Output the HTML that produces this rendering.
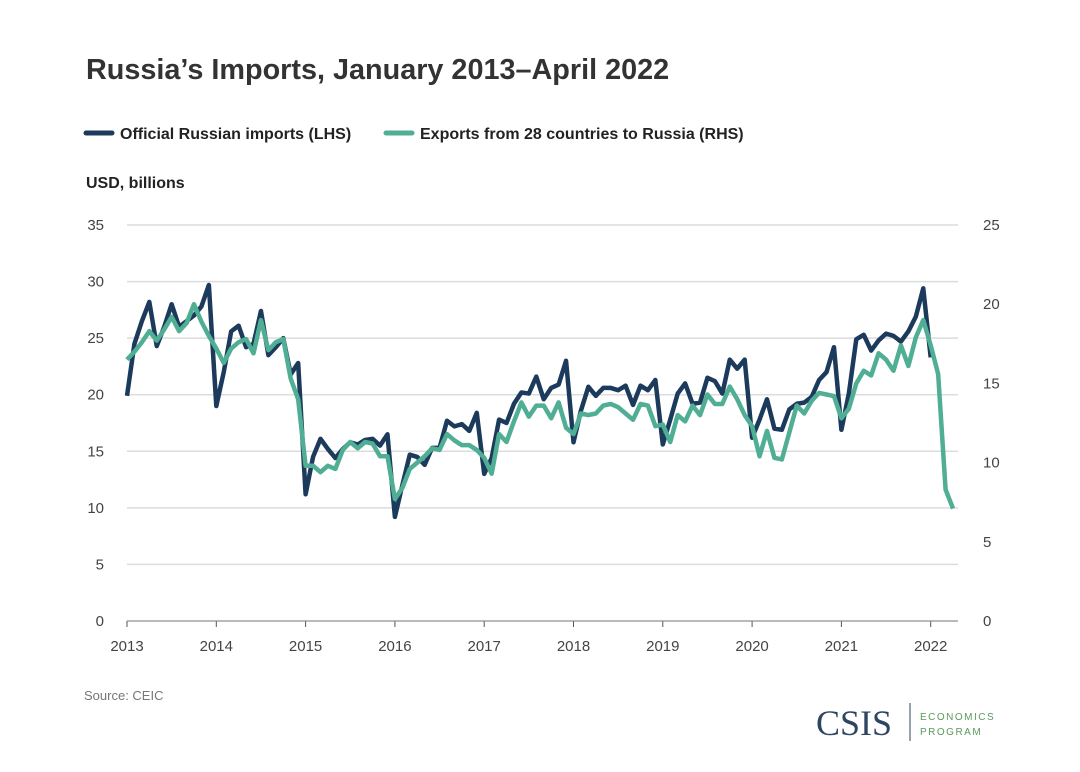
<!DOCTYPE html>
<html><head><meta charset="utf-8"><style>
body{margin:0;background:#fff;font-family:"Liberation Sans",sans-serif}
#wrap{position:relative;width:1080px;height:772px;overflow:hidden}
</style></head><body><div id="wrap">
<svg id="c" width="1080" height="772" xmlns="http://www.w3.org/2000/svg">
<text x="86" y="79" font-size="28.8" font-weight="bold" fill="#333">Russia’s Imports, January 2013–April 2022</text>
<g>
<line x1="86" y1="133" x2="112" y2="133" stroke="#1b3a5c" stroke-width="5" stroke-linecap="round"/>
<text x="120" y="139" font-size="16" font-weight="bold" fill="#222">Official Russian imports (LHS)</text>
<line x1="386" y1="133" x2="412" y2="133" stroke="#4fae94" stroke-width="5" stroke-linecap="round"/>
<text x="420" y="139" font-size="16" font-weight="bold" fill="#222">Exports from 28 countries to Russia (RHS)</text>
</g>
<text x="86" y="188" font-size="16" font-weight="bold" fill="#222">USD, billions</text>
<g id="grid"></g><g id="series"></g>
<text x="84" y="700" font-size="13" fill="#777">Source: CEIC</text>
<g>
<text x="816" y="735" font-family="Liberation Serif,serif" font-size="36" fill="#2d4560">CSIS</text>
<line x1="910" y1="703" x2="910" y2="741" stroke="#2d4560" stroke-width="1"/>
<text x="920" y="720" font-size="10" letter-spacing="1.5" fill="#5a9a5a">ECONOMICS</text>
<text x="920" y="735" font-size="10" letter-spacing="1.5" fill="#5a9a5a">PROGRAM</text>
</g>
</svg></div>
<script>
const leftTicks=[0,5,10,15,20,25,30,35];
const rightTicks=[0,5,10,15,20,25];
const years=[2013,2014,2015,2016,2017,2018,2019,2020,2021,2022];
const imports=[19.9,24.5,26.5,28.2,24.3,26,28,26,26.5,27,27.8,29.7,
19,22,25.6,26.1,24.2,24.5,27.4,23.5,24.2,25,21.8,22.8,
11.2,14.5,16.1,15.2,14.4,15.2,15.8,15.6,16,16.1,15.5,16.5,
9.2,12,14.7,14.5,13.8,15.3,15.3,17.7,17.2,17.4,16.8,18.4,
13,14.4,17.8,17.5,19.2,20.2,20.1,21.6,19.6,20.6,20.9,23,
15.8,18.6,20.7,19.9,20.6,20.6,20.4,20.8,19.1,20.8,20.4,21.3,
15.6,17.8,20.1,21,19.2,19.3,21.5,21.2,20.1,23.1,22.3,23.1,
16.2,17.8,19.6,17,16.9,18.7,19.2,19.3,19.8,21.3,22,24.2,
16.9,20.1,24.9,25.3,23.9,24.8,25.4,25.2,24.7,25.6,26.9,29.4,
23.3];
const exportsRU=[16.5,17,17.6,18.3,17.7,18.4,19.2,18.3,18.8,20,18.9,18,
17.2,16.3,17.2,17.6,17.8,16.9,19,17.1,17.6,17.8,15.3,14,
9.8,9.8,9.4,9.8,9.6,10.8,11.3,10.9,11.3,11.2,10.4,10.4,
7.7,8.4,9.6,10,10.4,10.9,10.8,11.8,11.4,11.1,11.1,10.8,
10.3,9.3,11.8,11.3,12.6,13.8,12.9,13.6,13.6,12.8,13.8,12.2,
11.8,13.1,13,13.1,13.6,13.7,13.5,13.1,12.7,13.7,13.6,12.3,
12.4,11.3,13,12.6,13.6,13,14.3,13.7,13.7,14.8,14,13,
12.3,10.4,12,10.3,10.2,11.9,13.6,13.1,13.9,14.4,14.3,14.2,
12.8,13.4,15,15.8,15.5,16.9,16.5,15.8,17.4,16.1,17.9,19,
17.4,15.6,8.3,7.1];
const NS='http://www.w3.org/2000/svg';
const x0=127,yearW=89.3,yb=621,yt=225;
const xm=i=>x0+i*yearW/12;
const yl=v=>yb-(yb-yt)*v/35;
const yr=v=>yb-(yb-yt)*v/25;
function mk(tag,a,p){const e=document.createElementNS(NS,tag);for(const k in a)e.setAttribute(k,a[k]);p.appendChild(e);return e;}
const g=document.getElementById('grid'),s=document.getElementById('series');
leftTicks.forEach(v=>{
const l=mk('line',{x1:x0,x2:958,y1:yl(v),y2:yl(v),stroke:'#dcdcdc','stroke-width':1.5},g);


const t=mk('text',{x:104,y:yl(v)+5,'text-anchor':'end','font-size':15,fill:'#444'},g);t.textContent=v;


});
rightTicks.forEach(v=>{
const t=mk('text',{x:983,y:yr(v)+5,'font-size':15,fill:'#444'},g);t.textContent=v;


});
years.forEach((y,i)=>{
const x=x0+i*yearW;
const l=mk('line',{x1:x,x2:x,y1:yb,y2:yb+6,stroke:'#555','stroke-width':1},g);


const t=mk('text',{x:x,y:651,'text-anchor':'middle','font-size':15,fill:'#444'},g);t.textContent=y;


});
mk('line',{x1:x0,x2:958,y1:yb,y2:yb,stroke:'#888','stroke-width':1},g);
const p1=mk('polyline',{points:imports.map((v,i)=>xm(i)+','+yl(v)).join(' '),fill:'none',stroke:'#1b3a5c','stroke-width':4.5,'stroke-linejoin':'round'},s);


const p2=mk('polyline',{points:exportsRU.map((v,i)=>xm(i)+','+yr(v)).join(' '),fill:'none',stroke:'#4fae94','stroke-width':4.5,'stroke-linejoin':'round'},s);


</script></body></html>
